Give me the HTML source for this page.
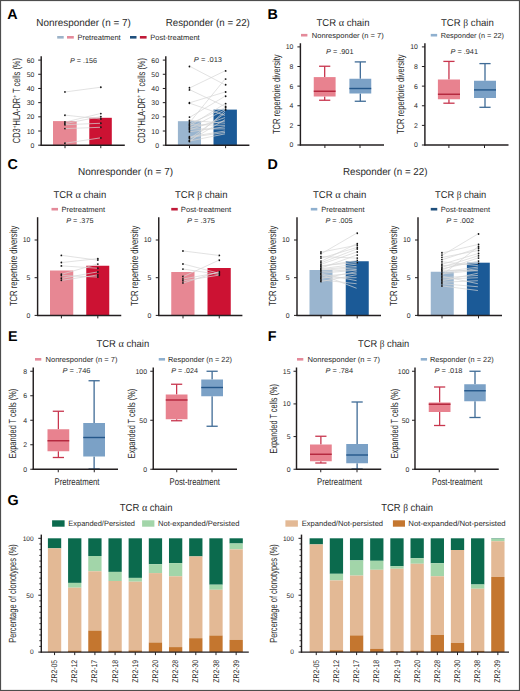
<!DOCTYPE html>
<html><head><meta charset="utf-8"><style>
html,body{margin:0;padding:0;background:#fff;width:520px;height:691px;overflow:hidden}
svg{display:block}
text{font-family:"Liberation Sans", sans-serif;text-rendering:geometricPrecision}
</style></head><body>
<svg width="520" height="691" viewBox="0 0 520 691" font-family='"Liberation Sans", sans-serif' fill="#2a2a2a">
<rect x="0.00" y="0.00" width="520.00" height="691.00" fill="#ffffff"/>
<text x="7.30" y="18.75" font-size="14.3" font-weight="bold" fill="#000">A</text>
<text x="267.40" y="18.85" font-size="14.3" font-weight="bold" fill="#000">B</text>
<text x="7.50" y="169.00" font-size="14.3" font-weight="bold" fill="#000">C</text>
<text x="267.50" y="169.10" font-size="14.3" font-weight="bold" fill="#000">D</text>
<text x="8.00" y="340.70" font-size="14.3" font-weight="bold" fill="#000">E</text>
<text x="267.80" y="340.70" font-size="14.3" font-weight="bold" fill="#000">F</text>
<text x="7.50" y="505.40" font-size="14.3" font-weight="bold" fill="#000">G</text>
<text x="36.30" y="25.80" font-size="10.2" textLength="94.50" lengthAdjust="spacingAndGlyphs">Nonresponder (n = 7)</text>
<text x="165.80" y="25.80" font-size="10.2" textLength="84.00" lengthAdjust="spacingAndGlyphs">Responder (n = 22)</text>
<rect x="57.20" y="36.00" width="6.50" height="2.60" fill="#9cb3c9"/>
<rect x="67.00" y="36.00" width="6.80" height="2.60" fill="#e48a9a"/>
<text x="77.40" y="39.70" font-size="7.6" textLength="43.30" lengthAdjust="spacingAndGlyphs">Pretreatment</text>
<rect x="130.00" y="36.00" width="6.50" height="2.60" fill="#1f4f7c"/>
<rect x="139.90" y="36.00" width="6.70" height="2.60" fill="#c01a38"/>
<text x="150.30" y="39.70" font-size="7.6" textLength="49.40" lengthAdjust="spacingAndGlyphs">Post-treatment</text>
<rect x="53.00" y="121.10" width="23.70" height="24.10" fill="#e78793"/>
<rect x="89.30" y="117.80" width="22.50" height="27.40" fill="#cc1233"/>
<circle cx="65.00" cy="91.90" r="0.95" fill="#111"/>
<circle cx="65.00" cy="115.20" r="0.95" fill="#111"/>
<circle cx="65.00" cy="122.00" r="0.95" fill="#111"/>
<circle cx="65.00" cy="123.50" r="0.95" fill="#111"/>
<circle cx="65.00" cy="124.70" r="0.95" fill="#111"/>
<circle cx="65.00" cy="128.60" r="0.95" fill="#111"/>
<circle cx="65.00" cy="143.20" r="0.95" fill="#111"/>
<circle cx="100.80" cy="87.30" r="0.95" fill="#111"/>
<circle cx="100.80" cy="118.90" r="0.95" fill="#111"/>
<circle cx="100.80" cy="113.60" r="0.95" fill="#111"/>
<circle cx="100.80" cy="116.70" r="0.95" fill="#111"/>
<circle cx="100.80" cy="123.30" r="0.95" fill="#111"/>
<circle cx="100.80" cy="127.30" r="0.95" fill="#111"/>
<circle cx="100.80" cy="137.90" r="0.95" fill="#111"/>
<line x1="65.60" y1="91.90" x2="100.20" y2="87.30" stroke="#d6d6d6" stroke-width="0.7"/>
<line x1="65.60" y1="115.20" x2="100.20" y2="118.90" stroke="#d6d6d6" stroke-width="0.7"/>
<line x1="65.60" y1="122.00" x2="100.20" y2="113.60" stroke="#d6d6d6" stroke-width="0.7"/>
<line x1="65.60" y1="123.50" x2="100.20" y2="116.70" stroke="#d6d6d6" stroke-width="0.7"/>
<line x1="65.60" y1="124.70" x2="100.20" y2="123.30" stroke="#d6d6d6" stroke-width="0.7"/>
<line x1="65.60" y1="128.60" x2="100.20" y2="127.30" stroke="#d6d6d6" stroke-width="0.7"/>
<line x1="65.60" y1="143.20" x2="100.20" y2="137.90" stroke="#d6d6d6" stroke-width="0.7"/>
<line x1="41.20" y1="56.30" x2="41.20" y2="145.80" stroke="#231f20" stroke-width="1.45"/>
<line x1="38.20" y1="145.20" x2="41.20" y2="145.20" stroke="#231f20" stroke-width="1.0"/>
<text x="34.40" y="147.68" font-size="6.9" text-anchor="end">0</text>
<line x1="38.20" y1="131.02" x2="41.20" y2="131.02" stroke="#231f20" stroke-width="1.0"/>
<text x="34.40" y="133.50" font-size="6.9" text-anchor="end">10</text>
<line x1="38.20" y1="116.83" x2="41.20" y2="116.83" stroke="#231f20" stroke-width="1.0"/>
<text x="34.40" y="119.32" font-size="6.9" text-anchor="end">20</text>
<line x1="38.20" y1="102.65" x2="41.20" y2="102.65" stroke="#231f20" stroke-width="1.0"/>
<text x="34.40" y="105.13" font-size="6.9" text-anchor="end">30</text>
<line x1="38.20" y1="88.47" x2="41.20" y2="88.47" stroke="#231f20" stroke-width="1.0"/>
<text x="34.40" y="90.95" font-size="6.9" text-anchor="end">40</text>
<line x1="38.20" y1="74.28" x2="41.20" y2="74.28" stroke="#231f20" stroke-width="1.0"/>
<text x="34.40" y="76.77" font-size="6.9" text-anchor="end">50</text>
<line x1="38.20" y1="60.10" x2="41.20" y2="60.10" stroke="#231f20" stroke-width="1.0"/>
<text x="34.40" y="62.59" font-size="6.9" text-anchor="end">60</text>
<line x1="40.60" y1="145.20" x2="124.80" y2="145.20" stroke="#231f20" stroke-width="1.45"/>
<line x1="65.00" y1="145.20" x2="65.00" y2="148.20" stroke="#231f20" stroke-width="1.0"/>
<line x1="100.80" y1="145.20" x2="100.80" y2="148.20" stroke="#231f20" stroke-width="1.0"/>
<text x="70.10" y="62.50" font-size="7.0" textLength="26.90" lengthAdjust="spacingAndGlyphs"><tspan font-style="italic">P</tspan> = .156</text>
<g transform="translate(19.90 100.60) rotate(-90) scale(0.7169 1)"><text x="0" y="0" text-anchor="middle" fill="#2a2a2a"><tspan font-size="10.4" dy="0">CD3</tspan><tspan font-size="6.6" dy="-3.2">+</tspan><tspan font-size="10.4" dy="3.2">HLA-DR</tspan><tspan font-size="6.6" dy="-3.2">+</tspan><tspan font-size="10.4" dy="3.2"> T cells (%)</tspan></text></g>
<rect x="177.90" y="121.20" width="23.10" height="24.00" fill="#9ab5cf"/>
<rect x="213.50" y="109.60" width="23.40" height="35.60" fill="#1b5a97"/>
<circle cx="189.50" cy="66.48" r="0.95" fill="#111"/>
<circle cx="189.50" cy="87.76" r="0.95" fill="#111"/>
<circle cx="189.50" cy="89.89" r="0.95" fill="#111"/>
<circle cx="189.50" cy="102.65" r="0.95" fill="#111"/>
<circle cx="189.50" cy="103.36" r="0.95" fill="#111"/>
<circle cx="189.50" cy="117.12" r="0.95" fill="#111"/>
<circle cx="189.50" cy="121.94" r="0.95" fill="#111"/>
<circle cx="189.50" cy="123.64" r="0.95" fill="#111"/>
<circle cx="189.50" cy="125.63" r="0.95" fill="#111"/>
<circle cx="189.50" cy="128.04" r="0.95" fill="#111"/>
<circle cx="189.50" cy="129.88" r="0.95" fill="#111"/>
<circle cx="189.50" cy="138.53" r="0.95" fill="#111"/>
<circle cx="189.50" cy="140.38" r="0.95" fill="#111"/>
<circle cx="189.50" cy="141.51" r="0.95" fill="#111"/>
<circle cx="189.50" cy="120.38" r="0.95" fill="#111"/>
<circle cx="189.50" cy="124.63" r="0.95" fill="#111"/>
<circle cx="189.50" cy="127.05" r="0.95" fill="#111"/>
<circle cx="189.50" cy="128.89" r="0.95" fill="#111"/>
<circle cx="189.50" cy="131.73" r="0.95" fill="#111"/>
<circle cx="189.50" cy="136.69" r="0.95" fill="#111"/>
<circle cx="189.50" cy="137.40" r="0.95" fill="#111"/>
<circle cx="189.50" cy="140.95" r="0.95" fill="#111"/>
<circle cx="225.60" cy="84.78" r="0.95" fill="#111"/>
<circle cx="225.60" cy="70.88" r="0.95" fill="#111"/>
<circle cx="225.60" cy="106.48" r="0.95" fill="#111"/>
<circle cx="225.60" cy="92.01" r="0.95" fill="#111"/>
<circle cx="225.60" cy="96.27" r="0.95" fill="#111"/>
<circle cx="225.60" cy="79.11" r="0.95" fill="#111"/>
<circle cx="225.60" cy="107.76" r="0.95" fill="#111"/>
<circle cx="225.60" cy="103.64" r="0.95" fill="#111"/>
<circle cx="225.60" cy="109.74" r="0.95" fill="#111"/>
<line x1="190.10" y1="66.48" x2="225.00" y2="84.78" stroke="#d6d6d6" stroke-width="0.7"/>
<line x1="190.10" y1="87.76" x2="225.00" y2="70.88" stroke="#d6d6d6" stroke-width="0.7"/>
<line x1="190.10" y1="89.89" x2="225.00" y2="106.48" stroke="#d6d6d6" stroke-width="0.7"/>
<line x1="190.10" y1="102.65" x2="225.00" y2="92.01" stroke="#d6d6d6" stroke-width="0.7"/>
<line x1="190.10" y1="103.36" x2="225.00" y2="115.42" stroke="#d6d6d6" stroke-width="0.7"/>
<line x1="190.10" y1="117.12" x2="225.00" y2="96.27" stroke="#d6d6d6" stroke-width="0.7"/>
<line x1="190.10" y1="121.94" x2="225.00" y2="79.11" stroke="#d6d6d6" stroke-width="0.7"/>
<line x1="190.10" y1="123.64" x2="225.00" y2="107.76" stroke="#d6d6d6" stroke-width="0.7"/>
<line x1="190.10" y1="125.63" x2="225.00" y2="103.64" stroke="#d6d6d6" stroke-width="0.7"/>
<line x1="190.10" y1="128.04" x2="225.00" y2="109.74" stroke="#d6d6d6" stroke-width="0.7"/>
<line x1="190.10" y1="129.88" x2="225.00" y2="117.54" stroke="#d6d6d6" stroke-width="0.7"/>
<line x1="190.10" y1="138.53" x2="225.00" y2="113.29" stroke="#d6d6d6" stroke-width="0.7"/>
<line x1="190.10" y1="140.38" x2="225.00" y2="119.67" stroke="#d6d6d6" stroke-width="0.7"/>
<line x1="190.10" y1="141.51" x2="225.00" y2="111.16" stroke="#d6d6d6" stroke-width="0.7"/>
<line x1="190.10" y1="120.38" x2="225.00" y2="123.22" stroke="#d6d6d6" stroke-width="0.7"/>
<line x1="190.10" y1="124.63" x2="225.00" y2="125.34" stroke="#d6d6d6" stroke-width="0.7"/>
<line x1="190.10" y1="127.05" x2="225.00" y2="121.09" stroke="#d6d6d6" stroke-width="0.7"/>
<line x1="190.10" y1="128.89" x2="225.00" y2="128.89" stroke="#d6d6d6" stroke-width="0.7"/>
<line x1="190.10" y1="131.73" x2="225.00" y2="126.76" stroke="#d6d6d6" stroke-width="0.7"/>
<line x1="190.10" y1="136.69" x2="225.00" y2="131.02" stroke="#d6d6d6" stroke-width="0.7"/>
<line x1="190.10" y1="137.40" x2="225.00" y2="132.44" stroke="#d6d6d6" stroke-width="0.7"/>
<line x1="190.10" y1="140.95" x2="225.00" y2="133.85" stroke="#d6d6d6" stroke-width="0.7"/>
<line x1="165.80" y1="56.30" x2="165.80" y2="145.80" stroke="#231f20" stroke-width="1.45"/>
<line x1="162.80" y1="145.20" x2="165.80" y2="145.20" stroke="#231f20" stroke-width="1.0"/>
<text x="159.00" y="147.68" font-size="6.9" text-anchor="end">0</text>
<line x1="162.80" y1="131.02" x2="165.80" y2="131.02" stroke="#231f20" stroke-width="1.0"/>
<text x="159.00" y="133.50" font-size="6.9" text-anchor="end">10</text>
<line x1="162.80" y1="116.83" x2="165.80" y2="116.83" stroke="#231f20" stroke-width="1.0"/>
<text x="159.00" y="119.32" font-size="6.9" text-anchor="end">20</text>
<line x1="162.80" y1="102.65" x2="165.80" y2="102.65" stroke="#231f20" stroke-width="1.0"/>
<text x="159.00" y="105.13" font-size="6.9" text-anchor="end">30</text>
<line x1="162.80" y1="88.47" x2="165.80" y2="88.47" stroke="#231f20" stroke-width="1.0"/>
<text x="159.00" y="90.95" font-size="6.9" text-anchor="end">40</text>
<line x1="162.80" y1="74.28" x2="165.80" y2="74.28" stroke="#231f20" stroke-width="1.0"/>
<text x="159.00" y="76.77" font-size="6.9" text-anchor="end">50</text>
<line x1="162.80" y1="60.10" x2="165.80" y2="60.10" stroke="#231f20" stroke-width="1.0"/>
<text x="159.00" y="62.59" font-size="6.9" text-anchor="end">60</text>
<line x1="165.20" y1="145.20" x2="249.40" y2="145.20" stroke="#231f20" stroke-width="1.45"/>
<line x1="189.50" y1="145.20" x2="189.50" y2="148.20" stroke="#231f20" stroke-width="1.0"/>
<line x1="225.60" y1="145.20" x2="225.60" y2="148.20" stroke="#231f20" stroke-width="1.0"/>
<text x="193.80" y="61.70" font-size="7.0" textLength="28.20" lengthAdjust="spacingAndGlyphs"><tspan font-style="italic">P</tspan> = .013</text>
<g transform="translate(144.50 100.60) rotate(-90) scale(0.7169 1)"><text x="0" y="0" text-anchor="middle" fill="#2a2a2a"><tspan font-size="10.4" dy="0">CD3</tspan><tspan font-size="6.6" dy="-3.2">+</tspan><tspan font-size="10.4" dy="3.2">HLA-DR</tspan><tspan font-size="6.6" dy="-3.2">+</tspan><tspan font-size="10.4" dy="3.2"> T cells (%)</tspan></text></g>
<text x="316.50" y="26.00" font-size="10.0" textLength="53.00" lengthAdjust="spacingAndGlyphs">TCR <tspan font-family="Liberation Serif" font-size="1.08em">α</tspan> chain</text>
<rect x="301.00" y="33.90" width="6.40" height="2.60" fill="#e48a9a"/>
<text x="311.75" y="37.80" font-size="7.3" textLength="72.00" lengthAdjust="spacingAndGlyphs">Nonresponder (n = 7)</text>
<text x="326.00" y="54.30" font-size="7.0" textLength="27.50" lengthAdjust="spacingAndGlyphs"><tspan font-style="italic">P</tspan> = .901</text>
<line x1="324.68" y1="66.25" x2="324.68" y2="77.10" stroke="#c8364e" stroke-width="1.3"/>
<line x1="324.68" y1="96.50" x2="324.68" y2="100.25" stroke="#c8364e" stroke-width="1.3"/>
<line x1="319.07" y1="66.25" x2="330.28" y2="66.25" stroke="#c8364e" stroke-width="1.3"/>
<line x1="319.07" y1="100.25" x2="330.28" y2="100.25" stroke="#c8364e" stroke-width="1.3"/>
<rect x="313.75" y="77.10" width="21.85" height="19.40" fill="#e8828f"/>
<line x1="313.75" y1="91.25" x2="335.60" y2="91.25" stroke="#b3243c" stroke-width="1.4"/>
<line x1="360.32" y1="61.90" x2="360.32" y2="78.75" stroke="#3f6b96" stroke-width="1.3"/>
<line x1="360.32" y1="93.50" x2="360.32" y2="101.25" stroke="#3f6b96" stroke-width="1.3"/>
<line x1="354.72" y1="61.90" x2="365.93" y2="61.90" stroke="#3f6b96" stroke-width="1.3"/>
<line x1="354.72" y1="101.25" x2="365.93" y2="101.25" stroke="#3f6b96" stroke-width="1.3"/>
<rect x="349.40" y="78.75" width="21.85" height="14.75" fill="#7ba1c6"/>
<line x1="349.40" y1="88.50" x2="371.25" y2="88.50" stroke="#24578a" stroke-width="1.4"/>
<line x1="300.40" y1="43.25" x2="300.40" y2="145.60" stroke="#231f20" stroke-width="1.45"/>
<line x1="297.40" y1="145.00" x2="300.40" y2="145.00" stroke="#231f20" stroke-width="1.0"/>
<text x="293.45" y="147.48" font-size="6.9" text-anchor="end">0</text>
<line x1="297.40" y1="125.38" x2="300.40" y2="125.38" stroke="#231f20" stroke-width="1.0"/>
<text x="293.45" y="127.86" font-size="6.9" text-anchor="end">2</text>
<line x1="297.40" y1="105.76" x2="300.40" y2="105.76" stroke="#231f20" stroke-width="1.0"/>
<text x="293.45" y="108.24" font-size="6.9" text-anchor="end">4</text>
<line x1="297.40" y1="86.14" x2="300.40" y2="86.14" stroke="#231f20" stroke-width="1.0"/>
<text x="293.45" y="88.62" font-size="6.9" text-anchor="end">6</text>
<line x1="297.40" y1="66.52" x2="300.40" y2="66.52" stroke="#231f20" stroke-width="1.0"/>
<text x="293.45" y="69.00" font-size="6.9" text-anchor="end">8</text>
<line x1="297.40" y1="46.90" x2="300.40" y2="46.90" stroke="#231f20" stroke-width="1.0"/>
<text x="293.45" y="49.38" font-size="6.9" text-anchor="end">10</text>
<line x1="299.80" y1="145.00" x2="384.00" y2="145.00" stroke="#231f20" stroke-width="1.45"/>
<line x1="324.90" y1="145.00" x2="324.90" y2="148.00" stroke="#231f20" stroke-width="1.0"/>
<line x1="360.00" y1="145.00" x2="360.00" y2="148.00" stroke="#231f20" stroke-width="1.0"/>
<g transform="translate(279.80 94.20) rotate(-90) scale(0.7329 1)"><text x="0" y="0" text-anchor="middle" fill="#2a2a2a"><tspan font-size="10.3" dy="0">TCR repertoire diversity</tspan></text></g>
<text x="441.00" y="26.00" font-size="10.0" textLength="52.75" lengthAdjust="spacingAndGlyphs">TCR <tspan font-family="Liberation Serif">β</tspan> chain</text>
<rect x="430.75" y="33.90" width="6.40" height="2.60" fill="#8fb0cf"/>
<text x="440.75" y="37.80" font-size="7.3" textLength="63.25" lengthAdjust="spacingAndGlyphs">Responder (n = 22)</text>
<text x="450.50" y="54.30" font-size="7.0" textLength="27.50" lengthAdjust="spacingAndGlyphs"><tspan font-style="italic">P</tspan> = .941</text>
<line x1="448.95" y1="61.40" x2="448.95" y2="79.50" stroke="#c8364e" stroke-width="1.3"/>
<line x1="448.95" y1="99.25" x2="448.95" y2="103.20" stroke="#c8364e" stroke-width="1.3"/>
<line x1="443.35" y1="61.40" x2="454.55" y2="61.40" stroke="#c8364e" stroke-width="1.3"/>
<line x1="443.35" y1="103.20" x2="454.55" y2="103.20" stroke="#c8364e" stroke-width="1.3"/>
<rect x="437.90" y="79.50" width="22.10" height="19.75" fill="#e8828f"/>
<line x1="437.90" y1="94.25" x2="460.00" y2="94.25" stroke="#b3243c" stroke-width="1.4"/>
<line x1="485.00" y1="63.60" x2="485.00" y2="80.75" stroke="#3f6b96" stroke-width="1.3"/>
<line x1="485.00" y1="98.00" x2="485.00" y2="107.30" stroke="#3f6b96" stroke-width="1.3"/>
<line x1="479.40" y1="63.60" x2="490.60" y2="63.60" stroke="#3f6b96" stroke-width="1.3"/>
<line x1="479.40" y1="107.30" x2="490.60" y2="107.30" stroke="#3f6b96" stroke-width="1.3"/>
<rect x="474.00" y="80.75" width="22.00" height="17.25" fill="#7ba1c6"/>
<line x1="474.00" y1="89.90" x2="496.00" y2="89.90" stroke="#24578a" stroke-width="1.4"/>
<line x1="424.90" y1="43.25" x2="424.90" y2="145.60" stroke="#231f20" stroke-width="1.45"/>
<line x1="421.90" y1="145.00" x2="424.90" y2="145.00" stroke="#231f20" stroke-width="1.0"/>
<text x="417.95" y="147.48" font-size="6.9" text-anchor="end">0</text>
<line x1="421.90" y1="125.38" x2="424.90" y2="125.38" stroke="#231f20" stroke-width="1.0"/>
<text x="417.95" y="127.86" font-size="6.9" text-anchor="end">2</text>
<line x1="421.90" y1="105.76" x2="424.90" y2="105.76" stroke="#231f20" stroke-width="1.0"/>
<text x="417.95" y="108.24" font-size="6.9" text-anchor="end">4</text>
<line x1="421.90" y1="86.14" x2="424.90" y2="86.14" stroke="#231f20" stroke-width="1.0"/>
<text x="417.95" y="88.62" font-size="6.9" text-anchor="end">6</text>
<line x1="421.90" y1="66.52" x2="424.90" y2="66.52" stroke="#231f20" stroke-width="1.0"/>
<text x="417.95" y="69.00" font-size="6.9" text-anchor="end">8</text>
<line x1="421.90" y1="46.90" x2="424.90" y2="46.90" stroke="#231f20" stroke-width="1.0"/>
<text x="417.95" y="49.38" font-size="6.9" text-anchor="end">10</text>
<line x1="424.30" y1="145.00" x2="508.50" y2="145.00" stroke="#231f20" stroke-width="1.45"/>
<line x1="448.90" y1="145.00" x2="448.90" y2="148.00" stroke="#231f20" stroke-width="1.0"/>
<line x1="484.50" y1="145.00" x2="484.50" y2="148.00" stroke="#231f20" stroke-width="1.0"/>
<g transform="translate(404.30 94.20) rotate(-90) scale(0.7329 1)"><text x="0" y="0" text-anchor="middle" fill="#2a2a2a"><tspan font-size="10.3" dy="0">TCR repertoire diversity</tspan></text></g>
<text x="78.00" y="175.20" font-size="10.2" textLength="95.00" lengthAdjust="spacingAndGlyphs">Nonresponder (n = 7)</text>
<text x="343.00" y="175.20" font-size="10.2" textLength="84.50" lengthAdjust="spacingAndGlyphs">Responder (n = 22)</text>
<text x="53.50" y="198.10" font-size="10.0" textLength="52.70" lengthAdjust="spacingAndGlyphs">TCR <tspan font-family="Liberation Serif" font-size="1.08em">α</tspan> chain</text>
<rect x="51.50" y="207.90" width="6.50" height="2.60" fill="#e48a9a"/>
<text x="61.60" y="211.90" font-size="7.5" textLength="43.40" lengthAdjust="spacingAndGlyphs">Pretreatment</text>
<text x="66.20" y="222.70" font-size="7.0" textLength="27.30" lengthAdjust="spacingAndGlyphs"><tspan font-style="italic">P</tspan> = .375</text>
<rect x="50.00" y="270.50" width="23.25" height="44.90" fill="#e78793"/>
<rect x="86.25" y="265.75" width="23.00" height="49.65" fill="#cc1233"/>
<circle cx="61.40" cy="255.40" r="0.95" fill="#111"/>
<circle cx="61.40" cy="262.50" r="0.95" fill="#111"/>
<circle cx="61.40" cy="265.90" r="0.95" fill="#111"/>
<circle cx="61.40" cy="274.20" r="0.95" fill="#111"/>
<circle cx="61.40" cy="275.60" r="0.95" fill="#111"/>
<circle cx="61.40" cy="278.30" r="0.95" fill="#111"/>
<circle cx="61.40" cy="280.30" r="0.95" fill="#111"/>
<circle cx="97.80" cy="260.10" r="0.95" fill="#111"/>
<circle cx="97.80" cy="258.70" r="0.95" fill="#111"/>
<circle cx="97.80" cy="268.20" r="0.95" fill="#111"/>
<circle cx="97.80" cy="264.10" r="0.95" fill="#111"/>
<circle cx="97.80" cy="277.00" r="0.95" fill="#111"/>
<circle cx="97.80" cy="272.00" r="0.95" fill="#111"/>
<circle cx="97.80" cy="275.00" r="0.95" fill="#111"/>
<line x1="62.00" y1="255.40" x2="97.20" y2="260.10" stroke="#d6d6d6" stroke-width="0.7"/>
<line x1="62.00" y1="262.50" x2="97.20" y2="258.70" stroke="#d6d6d6" stroke-width="0.7"/>
<line x1="62.00" y1="265.90" x2="97.20" y2="268.20" stroke="#d6d6d6" stroke-width="0.7"/>
<line x1="62.00" y1="274.20" x2="97.20" y2="264.10" stroke="#d6d6d6" stroke-width="0.7"/>
<line x1="62.00" y1="275.60" x2="97.20" y2="277.00" stroke="#d6d6d6" stroke-width="0.7"/>
<line x1="62.00" y1="278.30" x2="97.20" y2="272.00" stroke="#d6d6d6" stroke-width="0.7"/>
<line x1="62.00" y1="280.30" x2="97.20" y2="275.00" stroke="#d6d6d6" stroke-width="0.7"/>
<line x1="37.60" y1="217.20" x2="37.60" y2="316.00" stroke="#231f20" stroke-width="1.45"/>
<line x1="34.60" y1="315.40" x2="37.60" y2="315.40" stroke="#231f20" stroke-width="1.0"/>
<text x="30.30" y="317.88" font-size="6.9" text-anchor="end">0</text>
<line x1="34.60" y1="277.70" x2="37.60" y2="277.70" stroke="#231f20" stroke-width="1.0"/>
<text x="30.30" y="280.18" font-size="6.9" text-anchor="end">5</text>
<line x1="34.60" y1="240.00" x2="37.60" y2="240.00" stroke="#231f20" stroke-width="1.0"/>
<text x="30.30" y="242.48" font-size="6.9" text-anchor="end">10</text>
<line x1="37.00" y1="315.40" x2="121.25" y2="315.40" stroke="#231f20" stroke-width="1.45"/>
<line x1="61.40" y1="315.40" x2="61.40" y2="318.40" stroke="#231f20" stroke-width="1.0"/>
<line x1="97.80" y1="315.40" x2="97.80" y2="318.40" stroke="#231f20" stroke-width="1.0"/>
<g transform="translate(17.00 265.90) rotate(-90) scale(0.7384 1)"><text x="0" y="0" text-anchor="middle" fill="#2a2a2a"><tspan font-size="10.3" dy="0">TCR repertoire diversity</tspan></text></g>
<text x="175.00" y="198.10" font-size="10.0" textLength="52.50" lengthAdjust="spacingAndGlyphs">TCR <tspan font-family="Liberation Serif">β</tspan> chain</text>
<rect x="171.25" y="207.90" width="6.50" height="2.60" fill="#c01a38"/>
<text x="180.75" y="211.90" font-size="7.5" textLength="50.50" lengthAdjust="spacingAndGlyphs">Post-treatment</text>
<text x="187.00" y="222.70" font-size="7.0" textLength="28.00" lengthAdjust="spacingAndGlyphs"><tspan font-style="italic">P</tspan> = .375</text>
<rect x="171.25" y="272.00" width="23.25" height="43.40" fill="#e78793"/>
<rect x="207.50" y="268.00" width="23.25" height="47.40" fill="#cc1233"/>
<circle cx="183.00" cy="251.00" r="0.95" fill="#111"/>
<circle cx="183.00" cy="264.00" r="0.95" fill="#111"/>
<circle cx="183.00" cy="269.10" r="0.95" fill="#111"/>
<circle cx="183.00" cy="276.50" r="0.95" fill="#111"/>
<circle cx="183.00" cy="278.90" r="0.95" fill="#111"/>
<circle cx="183.00" cy="280.80" r="0.95" fill="#111"/>
<circle cx="183.00" cy="282.90" r="0.95" fill="#111"/>
<circle cx="219.25" cy="255.40" r="0.95" fill="#111"/>
<circle cx="219.25" cy="273.20" r="0.95" fill="#111"/>
<circle cx="219.25" cy="274.40" r="0.95" fill="#111"/>
<circle cx="219.25" cy="260.30" r="0.95" fill="#111"/>
<circle cx="219.25" cy="272.60" r="0.95" fill="#111"/>
<circle cx="219.25" cy="275.20" r="0.95" fill="#111"/>
<circle cx="219.25" cy="271.80" r="0.95" fill="#111"/>
<line x1="183.60" y1="251.00" x2="218.65" y2="255.40" stroke="#d6d6d6" stroke-width="0.7"/>
<line x1="183.60" y1="264.00" x2="218.65" y2="273.20" stroke="#d6d6d6" stroke-width="0.7"/>
<line x1="183.60" y1="269.10" x2="218.65" y2="274.40" stroke="#d6d6d6" stroke-width="0.7"/>
<line x1="183.60" y1="276.50" x2="218.65" y2="260.30" stroke="#d6d6d6" stroke-width="0.7"/>
<line x1="183.60" y1="278.90" x2="218.65" y2="272.60" stroke="#d6d6d6" stroke-width="0.7"/>
<line x1="183.60" y1="280.80" x2="218.65" y2="275.20" stroke="#d6d6d6" stroke-width="0.7"/>
<line x1="183.60" y1="282.90" x2="218.65" y2="271.80" stroke="#d6d6d6" stroke-width="0.7"/>
<line x1="158.75" y1="217.20" x2="158.75" y2="316.00" stroke="#231f20" stroke-width="1.45"/>
<line x1="155.75" y1="315.40" x2="158.75" y2="315.40" stroke="#231f20" stroke-width="1.0"/>
<text x="151.45" y="317.88" font-size="6.9" text-anchor="end">0</text>
<line x1="155.75" y1="277.70" x2="158.75" y2="277.70" stroke="#231f20" stroke-width="1.0"/>
<text x="151.45" y="280.18" font-size="6.9" text-anchor="end">5</text>
<line x1="155.75" y1="240.00" x2="158.75" y2="240.00" stroke="#231f20" stroke-width="1.0"/>
<text x="151.45" y="242.48" font-size="6.9" text-anchor="end">10</text>
<line x1="158.15" y1="315.40" x2="242.40" y2="315.40" stroke="#231f20" stroke-width="1.45"/>
<line x1="183.00" y1="315.40" x2="183.00" y2="318.40" stroke="#231f20" stroke-width="1.0"/>
<line x1="219.25" y1="315.40" x2="219.25" y2="318.40" stroke="#231f20" stroke-width="1.0"/>
<g transform="translate(138.15 265.90) rotate(-90) scale(0.7384 1)"><text x="0" y="0" text-anchor="middle" fill="#2a2a2a"><tspan font-size="10.3" dy="0">TCR repertoire diversity</tspan></text></g>
<text x="313.00" y="198.10" font-size="10.0" textLength="53.25" lengthAdjust="spacingAndGlyphs">TCR <tspan font-family="Liberation Serif" font-size="1.08em">α</tspan> chain</text>
<rect x="310.80" y="207.90" width="6.50" height="2.60" fill="#8fb0cf"/>
<text x="321.25" y="211.90" font-size="7.5" textLength="43.25" lengthAdjust="spacingAndGlyphs">Pretreatment</text>
<text x="325.50" y="222.70" font-size="7.0" textLength="27.00" lengthAdjust="spacingAndGlyphs"><tspan font-style="italic">P</tspan> = .005</text>
<rect x="309.50" y="270.00" width="23.00" height="45.40" fill="#9ab5cf"/>
<rect x="345.75" y="261.25" width="23.00" height="54.15" fill="#1b5a97"/>
<circle cx="321.00" cy="281.47" r="0.95" fill="#111"/>
<circle cx="321.00" cy="279.96" r="0.95" fill="#111"/>
<circle cx="321.00" cy="278.45" r="0.95" fill="#111"/>
<circle cx="321.00" cy="277.70" r="0.95" fill="#111"/>
<circle cx="321.00" cy="276.19" r="0.95" fill="#111"/>
<circle cx="321.00" cy="274.68" r="0.95" fill="#111"/>
<circle cx="321.00" cy="273.93" r="0.95" fill="#111"/>
<circle cx="321.00" cy="273.18" r="0.95" fill="#111"/>
<circle cx="321.00" cy="271.67" r="0.95" fill="#111"/>
<circle cx="321.00" cy="270.16" r="0.95" fill="#111"/>
<circle cx="321.00" cy="269.41" r="0.95" fill="#111"/>
<circle cx="321.00" cy="268.65" r="0.95" fill="#111"/>
<circle cx="321.00" cy="267.90" r="0.95" fill="#111"/>
<circle cx="321.00" cy="266.39" r="0.95" fill="#111"/>
<circle cx="321.00" cy="265.64" r="0.95" fill="#111"/>
<circle cx="321.00" cy="264.13" r="0.95" fill="#111"/>
<circle cx="321.00" cy="262.62" r="0.95" fill="#111"/>
<circle cx="321.00" cy="261.11" r="0.95" fill="#111"/>
<circle cx="321.00" cy="258.10" r="0.95" fill="#111"/>
<circle cx="321.00" cy="256.59" r="0.95" fill="#111"/>
<circle cx="321.00" cy="253.57" r="0.95" fill="#111"/>
<circle cx="321.00" cy="252.06" r="0.95" fill="#111"/>
<circle cx="357.20" cy="255.08" r="0.95" fill="#111"/>
<circle cx="357.20" cy="260.36" r="0.95" fill="#111"/>
<circle cx="357.20" cy="262.62" r="0.95" fill="#111"/>
<circle cx="357.20" cy="252.06" r="0.95" fill="#111"/>
<circle cx="357.20" cy="249.05" r="0.95" fill="#111"/>
<circle cx="357.20" cy="243.77" r="0.95" fill="#111"/>
<circle cx="357.20" cy="247.54" r="0.95" fill="#111"/>
<circle cx="357.20" cy="258.10" r="0.95" fill="#111"/>
<circle cx="357.20" cy="233.21" r="0.95" fill="#111"/>
<circle cx="357.20" cy="245.28" r="0.95" fill="#111"/>
<line x1="321.60" y1="281.47" x2="356.60" y2="274.68" stroke="#d6d6d6" stroke-width="0.7"/>
<line x1="321.60" y1="279.96" x2="356.60" y2="283.73" stroke="#d6d6d6" stroke-width="0.7"/>
<line x1="321.60" y1="278.45" x2="356.60" y2="271.67" stroke="#d6d6d6" stroke-width="0.7"/>
<line x1="321.60" y1="277.70" x2="356.60" y2="277.70" stroke="#d6d6d6" stroke-width="0.7"/>
<line x1="321.60" y1="276.19" x2="356.60" y2="273.18" stroke="#d6d6d6" stroke-width="0.7"/>
<line x1="321.60" y1="274.68" x2="356.60" y2="288.26" stroke="#d6d6d6" stroke-width="0.7"/>
<line x1="321.60" y1="273.93" x2="356.60" y2="280.72" stroke="#d6d6d6" stroke-width="0.7"/>
<line x1="321.60" y1="273.18" x2="356.60" y2="270.16" stroke="#d6d6d6" stroke-width="0.7"/>
<line x1="321.60" y1="271.67" x2="356.60" y2="269.41" stroke="#d6d6d6" stroke-width="0.7"/>
<line x1="321.60" y1="270.16" x2="356.60" y2="267.90" stroke="#d6d6d6" stroke-width="0.7"/>
<line x1="321.60" y1="269.41" x2="356.60" y2="266.39" stroke="#d6d6d6" stroke-width="0.7"/>
<line x1="321.60" y1="268.65" x2="356.60" y2="264.13" stroke="#d6d6d6" stroke-width="0.7"/>
<line x1="321.60" y1="267.90" x2="356.60" y2="255.08" stroke="#d6d6d6" stroke-width="0.7"/>
<line x1="321.60" y1="266.39" x2="356.60" y2="260.36" stroke="#d6d6d6" stroke-width="0.7"/>
<line x1="321.60" y1="265.64" x2="356.60" y2="262.62" stroke="#d6d6d6" stroke-width="0.7"/>
<line x1="321.60" y1="264.13" x2="356.60" y2="252.06" stroke="#d6d6d6" stroke-width="0.7"/>
<line x1="321.60" y1="262.62" x2="356.60" y2="249.05" stroke="#d6d6d6" stroke-width="0.7"/>
<line x1="321.60" y1="261.11" x2="356.60" y2="243.77" stroke="#d6d6d6" stroke-width="0.7"/>
<line x1="321.60" y1="258.10" x2="356.60" y2="247.54" stroke="#d6d6d6" stroke-width="0.7"/>
<line x1="321.60" y1="256.59" x2="356.60" y2="258.10" stroke="#d6d6d6" stroke-width="0.7"/>
<line x1="321.60" y1="253.57" x2="356.60" y2="233.21" stroke="#d6d6d6" stroke-width="0.7"/>
<line x1="321.60" y1="252.06" x2="356.60" y2="245.28" stroke="#d6d6d6" stroke-width="0.7"/>
<line x1="297.00" y1="217.20" x2="297.00" y2="316.00" stroke="#231f20" stroke-width="1.45"/>
<line x1="294.00" y1="315.40" x2="297.00" y2="315.40" stroke="#231f20" stroke-width="1.0"/>
<text x="289.70" y="317.88" font-size="6.9" text-anchor="end">0</text>
<line x1="294.00" y1="277.70" x2="297.00" y2="277.70" stroke="#231f20" stroke-width="1.0"/>
<text x="289.70" y="280.18" font-size="6.9" text-anchor="end">5</text>
<line x1="294.00" y1="240.00" x2="297.00" y2="240.00" stroke="#231f20" stroke-width="1.0"/>
<text x="289.70" y="242.48" font-size="6.9" text-anchor="end">10</text>
<line x1="296.40" y1="315.40" x2="381.00" y2="315.40" stroke="#231f20" stroke-width="1.45"/>
<line x1="321.00" y1="315.40" x2="321.00" y2="318.40" stroke="#231f20" stroke-width="1.0"/>
<line x1="357.20" y1="315.40" x2="357.20" y2="318.40" stroke="#231f20" stroke-width="1.0"/>
<g transform="translate(276.40 265.90) rotate(-90) scale(0.7384 1)"><text x="0" y="0" text-anchor="middle" fill="#2a2a2a"><tspan font-size="10.3" dy="0">TCR repertoire diversity</tspan></text></g>
<text x="435.00" y="198.10" font-size="10.0" textLength="51.25" lengthAdjust="spacingAndGlyphs">TCR <tspan font-family="Liberation Serif">β</tspan> chain</text>
<rect x="430.75" y="207.90" width="6.50" height="2.60" fill="#1f4f7c"/>
<text x="440.75" y="211.90" font-size="7.5" textLength="49.25" lengthAdjust="spacingAndGlyphs">Post-treatment</text>
<text x="446.25" y="222.70" font-size="7.0" textLength="28.00" lengthAdjust="spacingAndGlyphs"><tspan font-style="italic">P</tspan> = .002</text>
<rect x="430.75" y="271.75" width="23.00" height="43.65" fill="#9ab5cf"/>
<rect x="466.90" y="262.70" width="22.90" height="52.70" fill="#1b5a97"/>
<circle cx="442.00" cy="285.99" r="0.95" fill="#111"/>
<circle cx="442.00" cy="283.73" r="0.95" fill="#111"/>
<circle cx="442.00" cy="282.22" r="0.95" fill="#111"/>
<circle cx="442.00" cy="280.72" r="0.95" fill="#111"/>
<circle cx="442.00" cy="279.21" r="0.95" fill="#111"/>
<circle cx="442.00" cy="277.70" r="0.95" fill="#111"/>
<circle cx="442.00" cy="276.19" r="0.95" fill="#111"/>
<circle cx="442.00" cy="274.68" r="0.95" fill="#111"/>
<circle cx="442.00" cy="273.93" r="0.95" fill="#111"/>
<circle cx="442.00" cy="273.18" r="0.95" fill="#111"/>
<circle cx="442.00" cy="271.67" r="0.95" fill="#111"/>
<circle cx="442.00" cy="270.16" r="0.95" fill="#111"/>
<circle cx="442.00" cy="269.41" r="0.95" fill="#111"/>
<circle cx="442.00" cy="268.65" r="0.95" fill="#111"/>
<circle cx="442.00" cy="267.14" r="0.95" fill="#111"/>
<circle cx="442.00" cy="265.64" r="0.95" fill="#111"/>
<circle cx="442.00" cy="264.13" r="0.95" fill="#111"/>
<circle cx="442.00" cy="261.87" r="0.95" fill="#111"/>
<circle cx="442.00" cy="259.60" r="0.95" fill="#111"/>
<circle cx="442.00" cy="257.34" r="0.95" fill="#111"/>
<circle cx="442.00" cy="255.08" r="0.95" fill="#111"/>
<circle cx="442.00" cy="252.82" r="0.95" fill="#111"/>
<circle cx="478.50" cy="246.79" r="0.95" fill="#111"/>
<circle cx="478.50" cy="258.10" r="0.95" fill="#111"/>
<circle cx="478.50" cy="261.11" r="0.95" fill="#111"/>
<circle cx="478.50" cy="255.83" r="0.95" fill="#111"/>
<circle cx="478.50" cy="263.37" r="0.95" fill="#111"/>
<circle cx="478.50" cy="253.57" r="0.95" fill="#111"/>
<circle cx="478.50" cy="248.29" r="0.95" fill="#111"/>
<circle cx="478.50" cy="250.56" r="0.95" fill="#111"/>
<circle cx="478.50" cy="233.97" r="0.95" fill="#111"/>
<circle cx="478.50" cy="244.52" r="0.95" fill="#111"/>
<line x1="442.60" y1="285.99" x2="477.90" y2="290.52" stroke="#d6d6d6" stroke-width="0.7"/>
<line x1="442.60" y1="283.73" x2="477.90" y2="286.75" stroke="#d6d6d6" stroke-width="0.7"/>
<line x1="442.60" y1="282.22" x2="477.90" y2="280.72" stroke="#d6d6d6" stroke-width="0.7"/>
<line x1="442.60" y1="280.72" x2="477.90" y2="273.18" stroke="#d6d6d6" stroke-width="0.7"/>
<line x1="442.60" y1="279.21" x2="477.90" y2="277.70" stroke="#d6d6d6" stroke-width="0.7"/>
<line x1="442.60" y1="277.70" x2="477.90" y2="275.44" stroke="#d6d6d6" stroke-width="0.7"/>
<line x1="442.60" y1="276.19" x2="477.90" y2="283.73" stroke="#d6d6d6" stroke-width="0.7"/>
<line x1="442.60" y1="274.68" x2="477.90" y2="246.79" stroke="#d6d6d6" stroke-width="0.7"/>
<line x1="442.60" y1="273.93" x2="477.90" y2="270.16" stroke="#d6d6d6" stroke-width="0.7"/>
<line x1="442.60" y1="273.18" x2="477.90" y2="268.65" stroke="#d6d6d6" stroke-width="0.7"/>
<line x1="442.60" y1="271.67" x2="477.90" y2="267.14" stroke="#d6d6d6" stroke-width="0.7"/>
<line x1="442.60" y1="270.16" x2="477.90" y2="270.91" stroke="#d6d6d6" stroke-width="0.7"/>
<line x1="442.60" y1="269.41" x2="477.90" y2="258.10" stroke="#d6d6d6" stroke-width="0.7"/>
<line x1="442.60" y1="268.65" x2="477.90" y2="261.11" stroke="#d6d6d6" stroke-width="0.7"/>
<line x1="442.60" y1="267.14" x2="477.90" y2="255.83" stroke="#d6d6d6" stroke-width="0.7"/>
<line x1="442.60" y1="265.64" x2="477.90" y2="263.37" stroke="#d6d6d6" stroke-width="0.7"/>
<line x1="442.60" y1="264.13" x2="477.90" y2="253.57" stroke="#d6d6d6" stroke-width="0.7"/>
<line x1="442.60" y1="261.87" x2="477.90" y2="265.64" stroke="#d6d6d6" stroke-width="0.7"/>
<line x1="442.60" y1="259.60" x2="477.90" y2="248.29" stroke="#d6d6d6" stroke-width="0.7"/>
<line x1="442.60" y1="257.34" x2="477.90" y2="250.56" stroke="#d6d6d6" stroke-width="0.7"/>
<line x1="442.60" y1="255.08" x2="477.90" y2="233.97" stroke="#d6d6d6" stroke-width="0.7"/>
<line x1="442.60" y1="252.82" x2="477.90" y2="244.52" stroke="#d6d6d6" stroke-width="0.7"/>
<line x1="418.00" y1="217.20" x2="418.00" y2="316.00" stroke="#231f20" stroke-width="1.45"/>
<line x1="415.00" y1="315.40" x2="418.00" y2="315.40" stroke="#231f20" stroke-width="1.0"/>
<text x="410.70" y="317.88" font-size="6.9" text-anchor="end">0</text>
<line x1="415.00" y1="277.70" x2="418.00" y2="277.70" stroke="#231f20" stroke-width="1.0"/>
<text x="410.70" y="280.18" font-size="6.9" text-anchor="end">5</text>
<line x1="415.00" y1="240.00" x2="418.00" y2="240.00" stroke="#231f20" stroke-width="1.0"/>
<text x="410.70" y="242.48" font-size="6.9" text-anchor="end">10</text>
<line x1="417.40" y1="315.40" x2="502.00" y2="315.40" stroke="#231f20" stroke-width="1.45"/>
<line x1="442.00" y1="315.40" x2="442.00" y2="318.40" stroke="#231f20" stroke-width="1.0"/>
<line x1="478.50" y1="315.40" x2="478.50" y2="318.40" stroke="#231f20" stroke-width="1.0"/>
<g transform="translate(397.40 265.90) rotate(-90) scale(0.7384 1)"><text x="0" y="0" text-anchor="middle" fill="#2a2a2a"><tspan font-size="10.3" dy="0">TCR repertoire diversity</tspan></text></g>
<text x="96.50" y="346.60" font-size="10.0" textLength="52.70" lengthAdjust="spacingAndGlyphs">TCR <tspan font-family="Liberation Serif" font-size="1.08em">α</tspan> chain</text>
<text x="358.00" y="346.70" font-size="10.0" textLength="51.20" lengthAdjust="spacingAndGlyphs">TCR <tspan font-family="Liberation Serif">β</tspan> chain</text>
<rect x="35.00" y="358.00" width="6.30" height="2.60" fill="#e48a9a"/>
<text x="45.50" y="361.80" font-size="7.4" textLength="72.00" lengthAdjust="spacingAndGlyphs">Nonresponder (n = 7)</text>
<text x="62.50" y="373.40" font-size="7.0" textLength="28.00" lengthAdjust="spacingAndGlyphs"><tspan font-style="italic">P</tspan> = .746</text>
<line x1="58.38" y1="411.25" x2="58.38" y2="429.25" stroke="#c8364e" stroke-width="1.3"/>
<line x1="58.38" y1="451.25" x2="58.38" y2="457.50" stroke="#c8364e" stroke-width="1.3"/>
<line x1="52.77" y1="411.25" x2="63.98" y2="411.25" stroke="#c8364e" stroke-width="1.3"/>
<line x1="52.77" y1="457.50" x2="63.98" y2="457.50" stroke="#c8364e" stroke-width="1.3"/>
<rect x="47.50" y="429.25" width="21.75" height="22.00" fill="#e8828f"/>
<line x1="47.50" y1="440.75" x2="69.25" y2="440.75" stroke="#b3243c" stroke-width="1.4"/>
<line x1="94.12" y1="380.75" x2="94.12" y2="423.00" stroke="#3f6b96" stroke-width="1.3"/>
<line x1="94.12" y1="456.50" x2="94.12" y2="469.00" stroke="#3f6b96" stroke-width="1.3"/>
<line x1="88.53" y1="380.75" x2="99.72" y2="380.75" stroke="#3f6b96" stroke-width="1.3"/>
<line x1="88.53" y1="469.00" x2="99.72" y2="469.00" stroke="#3f6b96" stroke-width="1.3"/>
<rect x="83.25" y="423.00" width="21.75" height="33.50" fill="#7ba1c6"/>
<line x1="83.25" y1="437.50" x2="105.00" y2="437.50" stroke="#24578a" stroke-width="1.4"/>
<line x1="33.25" y1="367.50" x2="33.25" y2="469.85" stroke="#231f20" stroke-width="1.45"/>
<line x1="30.25" y1="469.25" x2="33.25" y2="469.25" stroke="#231f20" stroke-width="1.0"/>
<text x="27.00" y="471.73" font-size="6.9" text-anchor="end">0</text>
<line x1="30.25" y1="444.75" x2="33.25" y2="444.75" stroke="#231f20" stroke-width="1.0"/>
<text x="27.00" y="447.23" font-size="6.9" text-anchor="end">2</text>
<line x1="30.25" y1="420.25" x2="33.25" y2="420.25" stroke="#231f20" stroke-width="1.0"/>
<text x="27.00" y="422.73" font-size="6.9" text-anchor="end">4</text>
<line x1="30.25" y1="395.75" x2="33.25" y2="395.75" stroke="#231f20" stroke-width="1.0"/>
<text x="27.00" y="398.23" font-size="6.9" text-anchor="end">6</text>
<line x1="30.25" y1="371.25" x2="33.25" y2="371.25" stroke="#231f20" stroke-width="1.0"/>
<text x="27.00" y="373.73" font-size="6.9" text-anchor="end">8</text>
<line x1="32.65" y1="469.25" x2="118.00" y2="469.25" stroke="#231f20" stroke-width="1.45"/>
<line x1="58.25" y1="469.25" x2="58.25" y2="472.25" stroke="#231f20" stroke-width="1.0"/>
<line x1="94.25" y1="469.25" x2="94.25" y2="472.25" stroke="#231f20" stroke-width="1.0"/>
<text x="54.50" y="484.50" font-size="9.7" textLength="45.00" lengthAdjust="spacingAndGlyphs">Pretreatment</text>
<g transform="translate(16.10 423.60) rotate(-90) scale(0.7127 1)"><text x="0" y="0" text-anchor="middle" fill="#2a2a2a"><tspan font-size="10.3" dy="0">Expanded T cells (%)</tspan></text></g>
<rect x="158.75" y="358.00" width="6.30" height="2.60" fill="#8fb0cf"/>
<text x="168.00" y="361.80" font-size="7.4" textLength="64.00" lengthAdjust="spacingAndGlyphs">Responder (n = 22)</text>
<text x="171.25" y="373.40" font-size="7.0" textLength="26.75" lengthAdjust="spacingAndGlyphs"><tspan font-style="italic">P</tspan> = .024</text>
<line x1="176.62" y1="384.25" x2="176.62" y2="394.50" stroke="#c8364e" stroke-width="1.3"/>
<line x1="176.62" y1="419.25" x2="176.62" y2="420.75" stroke="#c8364e" stroke-width="1.3"/>
<line x1="171.03" y1="384.25" x2="182.22" y2="384.25" stroke="#c8364e" stroke-width="1.3"/>
<line x1="171.03" y1="420.75" x2="182.22" y2="420.75" stroke="#c8364e" stroke-width="1.3"/>
<rect x="165.75" y="394.50" width="21.75" height="24.75" fill="#e8828f"/>
<line x1="165.75" y1="400.00" x2="187.50" y2="400.00" stroke="#b3243c" stroke-width="1.4"/>
<line x1="212.12" y1="371.25" x2="212.12" y2="379.50" stroke="#3f6b96" stroke-width="1.3"/>
<line x1="212.12" y1="396.25" x2="212.12" y2="426.25" stroke="#3f6b96" stroke-width="1.3"/>
<line x1="206.53" y1="371.25" x2="217.72" y2="371.25" stroke="#3f6b96" stroke-width="1.3"/>
<line x1="206.53" y1="426.25" x2="217.72" y2="426.25" stroke="#3f6b96" stroke-width="1.3"/>
<rect x="201.25" y="379.50" width="21.75" height="16.75" fill="#7ba1c6"/>
<line x1="201.25" y1="387.50" x2="223.00" y2="387.50" stroke="#24578a" stroke-width="1.4"/>
<line x1="153.25" y1="367.50" x2="153.25" y2="469.85" stroke="#231f20" stroke-width="1.45"/>
<line x1="150.25" y1="469.25" x2="153.25" y2="469.25" stroke="#231f20" stroke-width="1.0"/>
<text x="147.00" y="471.73" font-size="6.9" text-anchor="end">0</text>
<line x1="150.25" y1="420.25" x2="153.25" y2="420.25" stroke="#231f20" stroke-width="1.0"/>
<text x="147.00" y="422.73" font-size="6.9" text-anchor="end">50</text>
<line x1="150.25" y1="371.25" x2="153.25" y2="371.25" stroke="#231f20" stroke-width="1.0"/>
<text x="147.00" y="373.73" font-size="6.9" text-anchor="end">100</text>
<line x1="152.65" y1="469.25" x2="237.00" y2="469.25" stroke="#231f20" stroke-width="1.45"/>
<line x1="176.75" y1="469.25" x2="176.75" y2="472.25" stroke="#231f20" stroke-width="1.0"/>
<line x1="212.00" y1="469.25" x2="212.00" y2="472.25" stroke="#231f20" stroke-width="1.0"/>
<text x="169.50" y="484.50" font-size="9.7" textLength="50.50" lengthAdjust="spacingAndGlyphs">Post-treatment</text>
<g transform="translate(135.40 423.60) rotate(-90) scale(0.7127 1)"><text x="0" y="0" text-anchor="middle" fill="#2a2a2a"><tspan font-size="10.3" dy="0">Expanded T cells (%)</tspan></text></g>
<rect x="297.00" y="358.00" width="6.30" height="2.60" fill="#e48a9a"/>
<text x="307.50" y="361.80" font-size="7.4" textLength="72.50" lengthAdjust="spacingAndGlyphs">Nonresponder (n = 7)</text>
<text x="325.50" y="373.40" font-size="7.0" textLength="27.50" lengthAdjust="spacingAndGlyphs"><tspan font-style="italic">P</tspan> = .784</text>
<line x1="320.88" y1="436.25" x2="320.88" y2="444.50" stroke="#c8364e" stroke-width="1.3"/>
<line x1="320.88" y1="461.25" x2="320.88" y2="463.00" stroke="#c8364e" stroke-width="1.3"/>
<line x1="315.27" y1="436.25" x2="326.48" y2="436.25" stroke="#c8364e" stroke-width="1.3"/>
<line x1="315.27" y1="463.00" x2="326.48" y2="463.00" stroke="#c8364e" stroke-width="1.3"/>
<rect x="310.00" y="444.50" width="21.75" height="16.75" fill="#e8828f"/>
<line x1="310.00" y1="454.25" x2="331.75" y2="454.25" stroke="#b3243c" stroke-width="1.4"/>
<line x1="357.12" y1="402.00" x2="357.12" y2="444.00" stroke="#3f6b96" stroke-width="1.3"/>
<line x1="357.12" y1="463.25" x2="357.12" y2="469.00" stroke="#3f6b96" stroke-width="1.3"/>
<line x1="351.52" y1="402.00" x2="362.73" y2="402.00" stroke="#3f6b96" stroke-width="1.3"/>
<line x1="351.52" y1="469.00" x2="362.73" y2="469.00" stroke="#3f6b96" stroke-width="1.3"/>
<rect x="346.25" y="444.00" width="21.75" height="19.25" fill="#7ba1c6"/>
<line x1="346.25" y1="455.00" x2="368.00" y2="455.00" stroke="#24578a" stroke-width="1.4"/>
<line x1="296.50" y1="367.50" x2="296.50" y2="469.85" stroke="#231f20" stroke-width="1.45"/>
<line x1="293.50" y1="469.25" x2="296.50" y2="469.25" stroke="#231f20" stroke-width="1.0"/>
<text x="290.50" y="471.73" font-size="6.9" text-anchor="end">0</text>
<line x1="293.50" y1="436.58" x2="296.50" y2="436.58" stroke="#231f20" stroke-width="1.0"/>
<text x="290.50" y="439.07" font-size="6.9" text-anchor="end">5</text>
<line x1="293.50" y1="403.92" x2="296.50" y2="403.92" stroke="#231f20" stroke-width="1.0"/>
<text x="290.50" y="406.40" font-size="6.9" text-anchor="end">10</text>
<line x1="293.50" y1="371.25" x2="296.50" y2="371.25" stroke="#231f20" stroke-width="1.0"/>
<text x="290.50" y="373.74" font-size="6.9" text-anchor="end">15</text>
<line x1="295.90" y1="469.25" x2="381.25" y2="469.25" stroke="#231f20" stroke-width="1.45"/>
<line x1="320.75" y1="469.25" x2="320.75" y2="472.25" stroke="#231f20" stroke-width="1.0"/>
<line x1="357.00" y1="469.25" x2="357.00" y2="472.25" stroke="#231f20" stroke-width="1.0"/>
<text x="317.00" y="484.50" font-size="9.7" textLength="45.00" lengthAdjust="spacingAndGlyphs">Pretreatment</text>
<g transform="translate(277.20 418.80) rotate(-90) scale(0.7127 1)"><text x="0" y="0" text-anchor="middle" fill="#2a2a2a"><tspan font-size="10.3" dy="0">Expanded T cells (%)</tspan></text></g>
<rect x="420.75" y="358.00" width="6.30" height="2.60" fill="#8fb0cf"/>
<text x="430.00" y="361.80" font-size="7.4" textLength="63.75" lengthAdjust="spacingAndGlyphs">Responder (n = 22)</text>
<text x="434.50" y="373.40" font-size="7.0" textLength="28.00" lengthAdjust="spacingAndGlyphs"><tspan font-style="italic">P</tspan> = .018</text>
<line x1="439.62" y1="387.00" x2="439.62" y2="402.50" stroke="#c8364e" stroke-width="1.3"/>
<line x1="439.62" y1="412.00" x2="439.62" y2="425.50" stroke="#c8364e" stroke-width="1.3"/>
<line x1="434.02" y1="387.00" x2="445.23" y2="387.00" stroke="#c8364e" stroke-width="1.3"/>
<line x1="434.02" y1="425.50" x2="445.23" y2="425.50" stroke="#c8364e" stroke-width="1.3"/>
<rect x="428.75" y="402.50" width="21.75" height="9.50" fill="#e8828f"/>
<line x1="428.75" y1="404.25" x2="450.50" y2="404.25" stroke="#b3243c" stroke-width="1.4"/>
<line x1="475.00" y1="371.25" x2="475.00" y2="384.25" stroke="#3f6b96" stroke-width="1.3"/>
<line x1="475.00" y1="401.25" x2="475.00" y2="417.50" stroke="#3f6b96" stroke-width="1.3"/>
<line x1="469.40" y1="371.25" x2="480.60" y2="371.25" stroke="#3f6b96" stroke-width="1.3"/>
<line x1="469.40" y1="417.50" x2="480.60" y2="417.50" stroke="#3f6b96" stroke-width="1.3"/>
<rect x="464.25" y="384.25" width="21.50" height="17.00" fill="#7ba1c6"/>
<line x1="464.25" y1="390.75" x2="485.75" y2="390.75" stroke="#24578a" stroke-width="1.4"/>
<line x1="415.00" y1="367.50" x2="415.00" y2="469.85" stroke="#231f20" stroke-width="1.45"/>
<line x1="412.00" y1="469.25" x2="415.00" y2="469.25" stroke="#231f20" stroke-width="1.0"/>
<text x="409.30" y="471.73" font-size="6.9" text-anchor="end">0</text>
<line x1="412.00" y1="420.25" x2="415.00" y2="420.25" stroke="#231f20" stroke-width="1.0"/>
<text x="409.30" y="422.73" font-size="6.9" text-anchor="end">50</text>
<line x1="412.00" y1="371.25" x2="415.00" y2="371.25" stroke="#231f20" stroke-width="1.0"/>
<text x="409.30" y="373.73" font-size="6.9" text-anchor="end">100</text>
<line x1="414.40" y1="469.25" x2="498.75" y2="469.25" stroke="#231f20" stroke-width="1.45"/>
<line x1="439.25" y1="469.25" x2="439.25" y2="472.25" stroke="#231f20" stroke-width="1.0"/>
<line x1="475.00" y1="469.25" x2="475.00" y2="472.25" stroke="#231f20" stroke-width="1.0"/>
<text x="432.00" y="484.50" font-size="9.7" textLength="50.50" lengthAdjust="spacingAndGlyphs">Post-treatment</text>
<g transform="translate(398.30 423.60) rotate(-90) scale(0.7127 1)"><text x="0" y="0" text-anchor="middle" fill="#2a2a2a"><tspan font-size="10.3" dy="0">Expanded T cells (%)</tspan></text></g>
<text x="119.80" y="510.70" font-size="10.2" textLength="52.70" lengthAdjust="spacingAndGlyphs">TCR <tspan font-family="Liberation Serif" font-size="1.08em">α</tspan> chain</text>
<rect x="47.90" y="538.30" width="13.30" height="10.00" fill="#0b6a4d"/>
<rect x="47.90" y="548.30" width="13.30" height="103.30" fill="#e3b995"/>
<rect x="47.90" y="651.60" width="13.30" height="0.50" fill="#c4762f"/>
<rect x="68.08" y="538.30" width="13.30" height="44.60" fill="#0b6a4d"/>
<rect x="68.08" y="582.90" width="13.30" height="4.80" fill="#a2d5a9"/>
<rect x="68.08" y="587.70" width="13.30" height="62.90" fill="#e3b995"/>
<rect x="68.08" y="650.60" width="13.30" height="1.50" fill="#c4762f"/>
<rect x="88.26" y="538.30" width="13.30" height="17.70" fill="#0b6a4d"/>
<rect x="88.26" y="556.00" width="13.30" height="15.30" fill="#a2d5a9"/>
<rect x="88.26" y="571.30" width="13.30" height="59.30" fill="#e3b995"/>
<rect x="88.26" y="630.60" width="13.30" height="21.50" fill="#c4762f"/>
<rect x="108.44" y="538.30" width="13.30" height="33.60" fill="#0b6a4d"/>
<rect x="108.44" y="571.90" width="13.30" height="9.10" fill="#a2d5a9"/>
<rect x="108.44" y="581.00" width="13.30" height="69.60" fill="#e3b995"/>
<rect x="108.44" y="650.60" width="13.30" height="1.50" fill="#c4762f"/>
<rect x="128.62" y="538.30" width="13.30" height="39.60" fill="#0b6a4d"/>
<rect x="128.62" y="577.90" width="13.30" height="3.80" fill="#a2d5a9"/>
<rect x="128.62" y="581.70" width="13.30" height="68.70" fill="#e3b995"/>
<rect x="128.62" y="650.40" width="13.30" height="1.70" fill="#c4762f"/>
<rect x="148.80" y="538.30" width="13.30" height="25.90" fill="#0b6a4d"/>
<rect x="148.80" y="564.20" width="13.30" height="8.90" fill="#a2d5a9"/>
<rect x="148.80" y="573.10" width="13.30" height="69.40" fill="#e3b995"/>
<rect x="148.80" y="642.50" width="13.30" height="9.60" fill="#c4762f"/>
<rect x="168.98" y="538.30" width="13.30" height="24.80" fill="#0b6a4d"/>
<rect x="168.98" y="563.10" width="13.30" height="13.20" fill="#a2d5a9"/>
<rect x="168.98" y="576.30" width="13.30" height="70.80" fill="#e3b995"/>
<rect x="168.98" y="647.10" width="13.30" height="5.00" fill="#c4762f"/>
<rect x="189.16" y="538.30" width="13.30" height="18.10" fill="#0b6a4d"/>
<rect x="189.16" y="556.40" width="13.30" height="81.80" fill="#e3b995"/>
<rect x="189.16" y="638.20" width="13.30" height="13.90" fill="#c4762f"/>
<rect x="209.34" y="538.30" width="13.30" height="46.40" fill="#0b6a4d"/>
<rect x="209.34" y="584.70" width="13.30" height="5.10" fill="#a2d5a9"/>
<rect x="209.34" y="589.80" width="13.30" height="45.70" fill="#e3b995"/>
<rect x="209.34" y="635.50" width="13.30" height="16.60" fill="#c4762f"/>
<rect x="229.52" y="538.30" width="13.30" height="5.20" fill="#0b6a4d"/>
<rect x="229.52" y="543.50" width="13.30" height="5.90" fill="#a2d5a9"/>
<rect x="229.52" y="549.40" width="13.30" height="90.50" fill="#e3b995"/>
<rect x="229.52" y="639.90" width="13.30" height="12.20" fill="#c4762f"/>
<line x1="41.30" y1="534.60" x2="41.30" y2="652.70" stroke="#231f20" stroke-width="1.45"/>
<line x1="38.30" y1="652.10" x2="41.30" y2="652.10" stroke="#231f20" stroke-width="1.0"/>
<text x="33.70" y="654.48" font-size="6.6" text-anchor="end">0</text>
<line x1="38.30" y1="595.21" x2="41.30" y2="595.21" stroke="#231f20" stroke-width="1.0"/>
<text x="33.70" y="597.59" font-size="6.6" text-anchor="end">50</text>
<line x1="38.30" y1="538.32" x2="41.30" y2="538.32" stroke="#231f20" stroke-width="1.0"/>
<text x="33.70" y="540.70" font-size="6.6" text-anchor="end">100</text>
<line x1="39.30" y1="646.41" x2="41.30" y2="646.41" stroke="#231f20" stroke-width="0.9"/>
<line x1="39.30" y1="640.72" x2="41.30" y2="640.72" stroke="#231f20" stroke-width="0.9"/>
<line x1="39.30" y1="635.03" x2="41.30" y2="635.03" stroke="#231f20" stroke-width="0.9"/>
<line x1="39.30" y1="629.34" x2="41.30" y2="629.34" stroke="#231f20" stroke-width="0.9"/>
<line x1="39.30" y1="623.65" x2="41.30" y2="623.65" stroke="#231f20" stroke-width="0.9"/>
<line x1="39.30" y1="617.97" x2="41.30" y2="617.97" stroke="#231f20" stroke-width="0.9"/>
<line x1="39.30" y1="612.28" x2="41.30" y2="612.28" stroke="#231f20" stroke-width="0.9"/>
<line x1="39.30" y1="606.59" x2="41.30" y2="606.59" stroke="#231f20" stroke-width="0.9"/>
<line x1="39.30" y1="600.90" x2="41.30" y2="600.90" stroke="#231f20" stroke-width="0.9"/>
<line x1="39.30" y1="589.52" x2="41.30" y2="589.52" stroke="#231f20" stroke-width="0.9"/>
<line x1="39.30" y1="583.83" x2="41.30" y2="583.83" stroke="#231f20" stroke-width="0.9"/>
<line x1="39.30" y1="578.14" x2="41.30" y2="578.14" stroke="#231f20" stroke-width="0.9"/>
<line x1="39.30" y1="572.45" x2="41.30" y2="572.45" stroke="#231f20" stroke-width="0.9"/>
<line x1="39.30" y1="566.76" x2="41.30" y2="566.76" stroke="#231f20" stroke-width="0.9"/>
<line x1="39.30" y1="561.08" x2="41.30" y2="561.08" stroke="#231f20" stroke-width="0.9"/>
<line x1="39.30" y1="555.39" x2="41.30" y2="555.39" stroke="#231f20" stroke-width="0.9"/>
<line x1="39.30" y1="549.70" x2="41.30" y2="549.70" stroke="#231f20" stroke-width="0.9"/>
<line x1="39.30" y1="544.01" x2="41.30" y2="544.01" stroke="#231f20" stroke-width="0.9"/>
<line x1="40.70" y1="652.10" x2="248.80" y2="652.10" stroke="#231f20" stroke-width="1.45"/>
<line x1="54.55" y1="652.10" x2="54.55" y2="655.10" stroke="#231f20" stroke-width="1.0"/>
<line x1="74.73" y1="652.10" x2="74.73" y2="655.10" stroke="#231f20" stroke-width="1.0"/>
<line x1="94.91" y1="652.10" x2="94.91" y2="655.10" stroke="#231f20" stroke-width="1.0"/>
<line x1="115.09" y1="652.10" x2="115.09" y2="655.10" stroke="#231f20" stroke-width="1.0"/>
<line x1="135.27" y1="652.10" x2="135.27" y2="655.10" stroke="#231f20" stroke-width="1.0"/>
<line x1="155.45" y1="652.10" x2="155.45" y2="655.10" stroke="#231f20" stroke-width="1.0"/>
<line x1="175.63" y1="652.10" x2="175.63" y2="655.10" stroke="#231f20" stroke-width="1.0"/>
<line x1="195.81" y1="652.10" x2="195.81" y2="655.10" stroke="#231f20" stroke-width="1.0"/>
<line x1="215.99" y1="652.10" x2="215.99" y2="655.10" stroke="#231f20" stroke-width="1.0"/>
<line x1="236.17" y1="652.10" x2="236.17" y2="655.10" stroke="#231f20" stroke-width="1.0"/>
<text x="57.10" y="659.80" font-size="8.2" text-anchor="end" textLength="22.90" lengthAdjust="spacingAndGlyphs" transform="rotate(-90 57.10 659.80)">ZR2-05</text>
<text x="77.28" y="659.80" font-size="8.2" text-anchor="end" textLength="22.90" lengthAdjust="spacingAndGlyphs" transform="rotate(-90 77.28 659.80)">ZR2-12</text>
<text x="97.46" y="659.80" font-size="8.2" text-anchor="end" textLength="22.90" lengthAdjust="spacingAndGlyphs" transform="rotate(-90 97.46 659.80)">ZR2-17</text>
<text x="117.64" y="659.80" font-size="8.2" text-anchor="end" textLength="22.90" lengthAdjust="spacingAndGlyphs" transform="rotate(-90 117.64 659.80)">ZR2-18</text>
<text x="137.82" y="659.80" font-size="8.2" text-anchor="end" textLength="22.90" lengthAdjust="spacingAndGlyphs" transform="rotate(-90 137.82 659.80)">ZR2-19</text>
<text x="158.00" y="659.80" font-size="8.2" text-anchor="end" textLength="22.90" lengthAdjust="spacingAndGlyphs" transform="rotate(-90 158.00 659.80)">ZR2-20</text>
<text x="178.18" y="659.80" font-size="8.2" text-anchor="end" textLength="22.90" lengthAdjust="spacingAndGlyphs" transform="rotate(-90 178.18 659.80)">ZR2-28</text>
<text x="198.36" y="659.80" font-size="8.2" text-anchor="end" textLength="22.90" lengthAdjust="spacingAndGlyphs" transform="rotate(-90 198.36 659.80)">ZR2-30</text>
<text x="218.54" y="659.80" font-size="8.2" text-anchor="end" textLength="22.90" lengthAdjust="spacingAndGlyphs" transform="rotate(-90 218.54 659.80)">ZR2-38</text>
<text x="238.72" y="659.80" font-size="8.2" text-anchor="end" textLength="22.90" lengthAdjust="spacingAndGlyphs" transform="rotate(-90 238.72 659.80)">ZR2-39</text>
<g transform="translate(16.10 593.50) rotate(-90) scale(0.7305 1)"><text x="0" y="0" text-anchor="middle" fill="#2a2a2a"><tspan font-size="10.3" dy="0">Percentage of clonotypes (%)</tspan></text></g>
<text x="381.30" y="510.70" font-size="10.2" textLength="51.70" lengthAdjust="spacingAndGlyphs">TCR <tspan font-family="Liberation Serif">β</tspan> chain</text>
<rect x="309.60" y="538.30" width="13.30" height="6.10" fill="#0b6a4d"/>
<rect x="309.60" y="544.40" width="13.30" height="107.20" fill="#e3b995"/>
<rect x="309.60" y="651.60" width="13.30" height="0.50" fill="#c4762f"/>
<rect x="329.78" y="538.30" width="13.30" height="35.50" fill="#0b6a4d"/>
<rect x="329.78" y="573.80" width="13.30" height="6.60" fill="#a2d5a9"/>
<rect x="329.78" y="580.40" width="13.30" height="69.80" fill="#e3b995"/>
<rect x="329.78" y="650.20" width="13.30" height="1.90" fill="#c4762f"/>
<rect x="349.96" y="538.30" width="13.30" height="22.10" fill="#0b6a4d"/>
<rect x="349.96" y="560.40" width="13.30" height="15.20" fill="#a2d5a9"/>
<rect x="349.96" y="575.60" width="13.30" height="59.80" fill="#e3b995"/>
<rect x="349.96" y="635.40" width="13.30" height="16.70" fill="#c4762f"/>
<rect x="370.14" y="538.30" width="13.30" height="22.50" fill="#0b6a4d"/>
<rect x="370.14" y="560.80" width="13.30" height="9.00" fill="#a2d5a9"/>
<rect x="370.14" y="569.80" width="13.30" height="79.00" fill="#e3b995"/>
<rect x="370.14" y="648.80" width="13.30" height="3.30" fill="#c4762f"/>
<rect x="390.32" y="538.30" width="13.30" height="27.95" fill="#0b6a4d"/>
<rect x="390.32" y="566.25" width="13.30" height="2.50" fill="#a2d5a9"/>
<rect x="390.32" y="568.75" width="13.30" height="82.25" fill="#e3b995"/>
<rect x="390.32" y="651.00" width="13.30" height="1.10" fill="#c4762f"/>
<rect x="410.50" y="538.30" width="13.30" height="19.95" fill="#0b6a4d"/>
<rect x="410.50" y="558.25" width="13.30" height="5.50" fill="#a2d5a9"/>
<rect x="410.50" y="563.75" width="13.30" height="86.75" fill="#e3b995"/>
<rect x="410.50" y="650.50" width="13.30" height="1.60" fill="#c4762f"/>
<rect x="430.68" y="538.30" width="13.30" height="24.95" fill="#0b6a4d"/>
<rect x="430.68" y="563.25" width="13.30" height="13.00" fill="#a2d5a9"/>
<rect x="430.68" y="576.25" width="13.30" height="58.75" fill="#e3b995"/>
<rect x="430.68" y="635.00" width="13.30" height="17.10" fill="#c4762f"/>
<rect x="450.86" y="538.30" width="13.30" height="11.70" fill="#0b6a4d"/>
<rect x="450.86" y="550.00" width="13.30" height="93.00" fill="#e3b995"/>
<rect x="450.86" y="643.00" width="13.30" height="9.10" fill="#c4762f"/>
<rect x="471.04" y="538.30" width="13.30" height="46.20" fill="#0b6a4d"/>
<rect x="471.04" y="584.50" width="13.30" height="4.25" fill="#a2d5a9"/>
<rect x="471.04" y="588.75" width="13.30" height="62.00" fill="#e3b995"/>
<rect x="471.04" y="650.75" width="13.30" height="1.35" fill="#c4762f"/>
<rect x="491.22" y="538.30" width="13.30" height="0.45" fill="#0b6a4d"/>
<rect x="491.22" y="538.75" width="13.30" height="2.50" fill="#a2d5a9"/>
<rect x="491.22" y="541.25" width="13.30" height="35.75" fill="#e3b995"/>
<rect x="491.22" y="577.00" width="13.30" height="75.10" fill="#c4762f"/>
<line x1="301.50" y1="534.60" x2="301.50" y2="652.70" stroke="#231f20" stroke-width="1.45"/>
<line x1="298.50" y1="652.10" x2="301.50" y2="652.10" stroke="#231f20" stroke-width="1.0"/>
<text x="293.90" y="654.48" font-size="6.6" text-anchor="end">0</text>
<line x1="298.50" y1="595.21" x2="301.50" y2="595.21" stroke="#231f20" stroke-width="1.0"/>
<text x="293.90" y="597.59" font-size="6.6" text-anchor="end">50</text>
<line x1="298.50" y1="538.32" x2="301.50" y2="538.32" stroke="#231f20" stroke-width="1.0"/>
<text x="293.90" y="540.70" font-size="6.6" text-anchor="end">100</text>
<line x1="299.50" y1="646.41" x2="301.50" y2="646.41" stroke="#231f20" stroke-width="0.9"/>
<line x1="299.50" y1="640.72" x2="301.50" y2="640.72" stroke="#231f20" stroke-width="0.9"/>
<line x1="299.50" y1="635.03" x2="301.50" y2="635.03" stroke="#231f20" stroke-width="0.9"/>
<line x1="299.50" y1="629.34" x2="301.50" y2="629.34" stroke="#231f20" stroke-width="0.9"/>
<line x1="299.50" y1="623.65" x2="301.50" y2="623.65" stroke="#231f20" stroke-width="0.9"/>
<line x1="299.50" y1="617.97" x2="301.50" y2="617.97" stroke="#231f20" stroke-width="0.9"/>
<line x1="299.50" y1="612.28" x2="301.50" y2="612.28" stroke="#231f20" stroke-width="0.9"/>
<line x1="299.50" y1="606.59" x2="301.50" y2="606.59" stroke="#231f20" stroke-width="0.9"/>
<line x1="299.50" y1="600.90" x2="301.50" y2="600.90" stroke="#231f20" stroke-width="0.9"/>
<line x1="299.50" y1="589.52" x2="301.50" y2="589.52" stroke="#231f20" stroke-width="0.9"/>
<line x1="299.50" y1="583.83" x2="301.50" y2="583.83" stroke="#231f20" stroke-width="0.9"/>
<line x1="299.50" y1="578.14" x2="301.50" y2="578.14" stroke="#231f20" stroke-width="0.9"/>
<line x1="299.50" y1="572.45" x2="301.50" y2="572.45" stroke="#231f20" stroke-width="0.9"/>
<line x1="299.50" y1="566.76" x2="301.50" y2="566.76" stroke="#231f20" stroke-width="0.9"/>
<line x1="299.50" y1="561.08" x2="301.50" y2="561.08" stroke="#231f20" stroke-width="0.9"/>
<line x1="299.50" y1="555.39" x2="301.50" y2="555.39" stroke="#231f20" stroke-width="0.9"/>
<line x1="299.50" y1="549.70" x2="301.50" y2="549.70" stroke="#231f20" stroke-width="0.9"/>
<line x1="299.50" y1="544.01" x2="301.50" y2="544.01" stroke="#231f20" stroke-width="0.9"/>
<line x1="300.90" y1="652.10" x2="509.00" y2="652.10" stroke="#231f20" stroke-width="1.45"/>
<line x1="316.25" y1="652.10" x2="316.25" y2="655.10" stroke="#231f20" stroke-width="1.0"/>
<line x1="336.43" y1="652.10" x2="336.43" y2="655.10" stroke="#231f20" stroke-width="1.0"/>
<line x1="356.61" y1="652.10" x2="356.61" y2="655.10" stroke="#231f20" stroke-width="1.0"/>
<line x1="376.79" y1="652.10" x2="376.79" y2="655.10" stroke="#231f20" stroke-width="1.0"/>
<line x1="396.97" y1="652.10" x2="396.97" y2="655.10" stroke="#231f20" stroke-width="1.0"/>
<line x1="417.15" y1="652.10" x2="417.15" y2="655.10" stroke="#231f20" stroke-width="1.0"/>
<line x1="437.33" y1="652.10" x2="437.33" y2="655.10" stroke="#231f20" stroke-width="1.0"/>
<line x1="457.51" y1="652.10" x2="457.51" y2="655.10" stroke="#231f20" stroke-width="1.0"/>
<line x1="477.69" y1="652.10" x2="477.69" y2="655.10" stroke="#231f20" stroke-width="1.0"/>
<line x1="497.87" y1="652.10" x2="497.87" y2="655.10" stroke="#231f20" stroke-width="1.0"/>
<text x="318.80" y="659.80" font-size="8.2" text-anchor="end" textLength="22.90" lengthAdjust="spacingAndGlyphs" transform="rotate(-90 318.80 659.80)">ZR2-05</text>
<text x="338.98" y="659.80" font-size="8.2" text-anchor="end" textLength="22.90" lengthAdjust="spacingAndGlyphs" transform="rotate(-90 338.98 659.80)">ZR2-12</text>
<text x="359.16" y="659.80" font-size="8.2" text-anchor="end" textLength="22.90" lengthAdjust="spacingAndGlyphs" transform="rotate(-90 359.16 659.80)">ZR2-17</text>
<text x="379.34" y="659.80" font-size="8.2" text-anchor="end" textLength="22.90" lengthAdjust="spacingAndGlyphs" transform="rotate(-90 379.34 659.80)">ZR2-18</text>
<text x="399.52" y="659.80" font-size="8.2" text-anchor="end" textLength="22.90" lengthAdjust="spacingAndGlyphs" transform="rotate(-90 399.52 659.80)">ZR2-19</text>
<text x="419.70" y="659.80" font-size="8.2" text-anchor="end" textLength="22.90" lengthAdjust="spacingAndGlyphs" transform="rotate(-90 419.70 659.80)">ZR2-20</text>
<text x="439.88" y="659.80" font-size="8.2" text-anchor="end" textLength="22.90" lengthAdjust="spacingAndGlyphs" transform="rotate(-90 439.88 659.80)">ZR2-28</text>
<text x="460.06" y="659.80" font-size="8.2" text-anchor="end" textLength="22.90" lengthAdjust="spacingAndGlyphs" transform="rotate(-90 460.06 659.80)">ZR2-30</text>
<text x="480.24" y="659.80" font-size="8.2" text-anchor="end" textLength="22.90" lengthAdjust="spacingAndGlyphs" transform="rotate(-90 480.24 659.80)">ZR2-38</text>
<text x="500.42" y="659.80" font-size="8.2" text-anchor="end" textLength="22.90" lengthAdjust="spacingAndGlyphs" transform="rotate(-90 500.42 659.80)">ZR2-39</text>
<g transform="translate(276.70 593.50) rotate(-90) scale(0.7305 1)"><text x="0" y="0" text-anchor="middle" fill="#2a2a2a"><tspan font-size="10.3" dy="0">Percentage of clonotypes (%)</tspan></text></g>
<rect x="52.10" y="520.30" width="12.50" height="6.40" fill="#0b6a4d"/>
<text x="68.30" y="525.60" font-size="7.6" textLength="66.70" lengthAdjust="spacingAndGlyphs">Expanded/Persisted</text>
<rect x="142.10" y="520.30" width="12.30" height="6.40" fill="#a2d5a9"/>
<text x="158.00" y="525.60" font-size="7.6" textLength="81.40" lengthAdjust="spacingAndGlyphs">Not-expanded/Persisted</text>
<rect x="285.40" y="520.30" width="12.50" height="6.40" fill="#e3b995"/>
<text x="301.70" y="525.60" font-size="7.6" textLength="81.40" lengthAdjust="spacingAndGlyphs">Expanded/Not-persisted</text>
<rect x="392.90" y="520.30" width="12.10" height="6.40" fill="#c4762f"/>
<text x="408.30" y="525.60" font-size="7.6" textLength="97.40" lengthAdjust="spacingAndGlyphs">Not-expanded/Not-persisted</text>
<rect x="0.5" y="0.5" width="519" height="690" fill="none" stroke="#4d4d4d" stroke-width="1.2"/>
</svg>
</body></html>
